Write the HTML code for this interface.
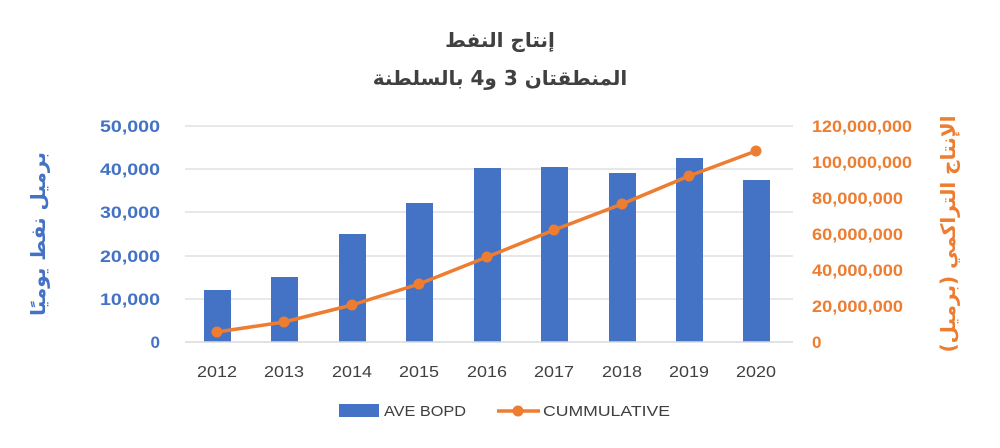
<!DOCTYPE html>
<html><head><meta charset="utf-8"><style>
html,body{margin:0;padding:0;background:#fff;}
svg{display:block}
</style></head><body>
<svg width="1000" height="448" viewBox="0 0 1000 448" xmlns="http://www.w3.org/2000/svg" font-family="'Liberation Sans','Noto Sans CJK SC',sans-serif">
<rect width="1000" height="448" fill="#fff"/>
<g font-family="'DejaVu Sans',sans-serif" font-weight="bold" fill="#404040" text-anchor="middle">
<text x="500" y="47" font-size="20">إنتاج النفط</text>
<text x="500" y="85" font-size="20">المنطقتان 3 و4 بالسلطنة</text>
</g>
<g stroke="#d9d9d9" stroke-width="1.3">
<line x1="185" y1="126" x2="793" y2="126"/>
<line x1="185" y1="169" x2="793" y2="169"/>
<line x1="185" y1="212" x2="793" y2="212"/>
<line x1="185" y1="256" x2="793" y2="256"/>
<line x1="185" y1="299" x2="793" y2="299"/>
</g>
<g fill="#4472c4">
<rect x="204" y="290" width="27" height="52"/>
<rect x="271" y="277" width="27" height="65"/>
<rect x="339" y="234" width="27" height="108"/>
<rect x="406" y="203" width="27" height="139"/>
<rect x="474" y="168" width="27" height="174"/>
<rect x="541" y="167" width="27" height="175"/>
<rect x="609" y="173" width="27" height="169"/>
<rect x="676" y="158" width="27" height="184"/>
<rect x="743" y="180" width="27" height="162"/>
</g>
<line x1="185" y1="342" x2="793" y2="342" stroke="#d9d9d9" stroke-width="1.5"/>
<polyline fill="none" stroke="#ed7d31" stroke-width="3.5" stroke-linejoin="round" points="217,332 284,322 352,305 419,284 487,257 554,230 622,204 689,176 756,151"/>
<g fill="#ed7d31">
<circle cx="217" cy="332" r="5.5"/><circle cx="284" cy="322" r="5.5"/><circle cx="352" cy="305" r="5.5"/>
<circle cx="419" cy="284" r="5.5"/><circle cx="487" cy="257" r="5.5"/><circle cx="554" cy="230" r="5.5"/>
<circle cx="622" cy="204" r="5.5"/><circle cx="689" cy="176" r="5.5"/><circle cx="756" cy="151" r="5.5"/>
</g>
<g fill="#4472c4" font-size="17" font-weight="bold" text-anchor="end">
<text x="160" y="132" textLength="60" lengthAdjust="spacingAndGlyphs">50,000</text>
<text x="160" y="175" textLength="60" lengthAdjust="spacingAndGlyphs">40,000</text>
<text x="160" y="218" textLength="60" lengthAdjust="spacingAndGlyphs">30,000</text>
<text x="160" y="262" textLength="60" lengthAdjust="spacingAndGlyphs">20,000</text>
<text x="160" y="305" textLength="60" lengthAdjust="spacingAndGlyphs">10,000</text>
<text x="160" y="348">0</text>
</g>
<g fill="#ed7d31" font-size="17" font-weight="bold">
<text x="812" y="132" textLength="100" lengthAdjust="spacingAndGlyphs">120,000,000</text>
<text x="812" y="168" textLength="100" lengthAdjust="spacingAndGlyphs">100,000,000</text>
<text x="812" y="204" textLength="91" lengthAdjust="spacingAndGlyphs">80,000,000</text>
<text x="812" y="240" textLength="91" lengthAdjust="spacingAndGlyphs">60,000,000</text>
<text x="812" y="276" textLength="91" lengthAdjust="spacingAndGlyphs">40,000,000</text>
<text x="812" y="312" textLength="91" lengthAdjust="spacingAndGlyphs">20,000,000</text>
<text x="812" y="348">0</text>
</g>
<g fill="#404040" font-size="16" text-anchor="middle">
<text x="217" y="377" textLength="40" lengthAdjust="spacingAndGlyphs">2012</text>
<text x="284" y="377" textLength="40" lengthAdjust="spacingAndGlyphs">2013</text>
<text x="352" y="377" textLength="40" lengthAdjust="spacingAndGlyphs">2014</text>
<text x="419" y="377" textLength="40" lengthAdjust="spacingAndGlyphs">2015</text>
<text x="487" y="377" textLength="40" lengthAdjust="spacingAndGlyphs">2016</text>
<text x="554" y="377" textLength="40" lengthAdjust="spacingAndGlyphs">2017</text>
<text x="622" y="377" textLength="40" lengthAdjust="spacingAndGlyphs">2018</text>
<text x="689" y="377" textLength="40" lengthAdjust="spacingAndGlyphs">2019</text>
<text x="756" y="377" textLength="40" lengthAdjust="spacingAndGlyphs">2020</text>
</g>
<text transform="translate(45,234) rotate(-90)" text-anchor="middle" fill="#4472c4" font-size="20" font-weight="bold" font-family="'DejaVu Sans',sans-serif">برميل نفط يوميًا</text>
<text transform="translate(955,234) rotate(-90)" text-anchor="middle" fill="#ed7d31" font-size="20" font-weight="bold" font-family="'DejaVu Sans',sans-serif">الإنتاج التراكمي (برميل)</text>
<rect x="339" y="404" width="40" height="13" fill="#4472c4"/>
<text x="384" y="416" font-size="15" fill="#404040" textLength="82" lengthAdjust="spacingAndGlyphs">AVE BOPD</text>
<line x1="497" y1="411" x2="540" y2="411" stroke="#ed7d31" stroke-width="3.5"/>
<circle cx="518" cy="411" r="5.5" fill="#ed7d31"/>
<text x="543" y="416" font-size="15" fill="#404040" textLength="127" lengthAdjust="spacingAndGlyphs">CUMMULATIVE</text>
</svg>
</body></html>
